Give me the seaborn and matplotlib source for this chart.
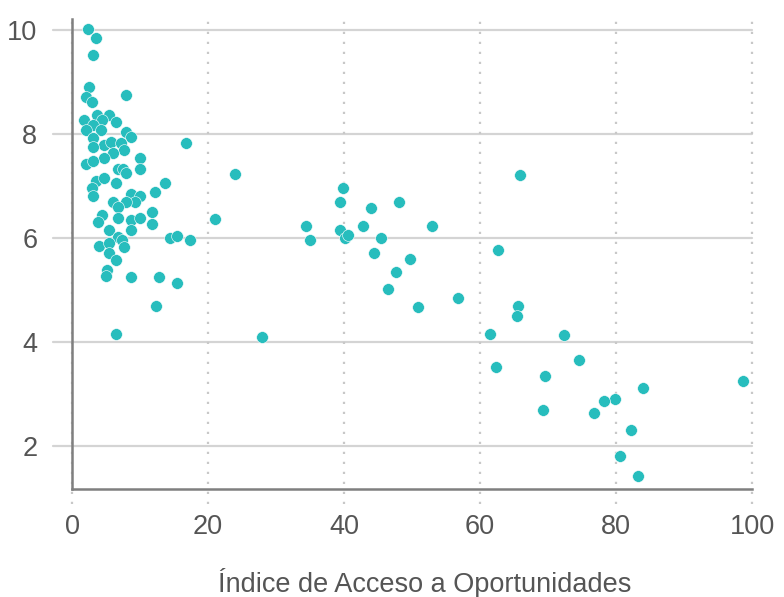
import matplotlib
matplotlib.use("Agg")
import matplotlib.pyplot as plt
import seaborn as sns
import pandas as pd

x_vals = [2.3, 3.6, 3.1, 2.5, 2.1, 2.9, 7.9, 3.7, 5.4, 1.8, 4.4, 6.5, 3.1, 2.1, 4.2, 8.0, 8.7, 3.1,
          16.8, 4.7, 5.7, 7.2, 3.1, 7.6, 6.1, 4.7, 10.0, 2.1, 3.1, 6.7, 7.5, 10.0, 7.9, 24.0, 3.6,
          4.7, 6.5, 13.7, 2.9, 3.1, 12.2, 8.7, 10.0, 9.3, 7.9, 6.0, 6.8, 4.4, 6.8, 11.7, 3.8, 8.7,
          10.0, 11.7, 8.7, 21.0, 5.4, 14.4, 15.5, 17.3, 6.8, 7.4, 3.9, 5.4, 7.6, 5.4, 6.5, 5.2, 5.0,
          8.7, 12.8, 15.4, 12.4, 6.5, 27.9, 34.4, 35.0, 39.8, 39.4, 39.4, 40.1, 40.6, 44.0, 42.8,
          45.4, 44.4, 48.1, 52.9, 49.7, 47.6, 46.5, 50.9, 56.8, 65.9, 62.6, 65.6, 65.4, 61.5, 72.4,
          62.3, 74.6, 69.5, 98.7, 84.0, 79.9, 78.3, 76.8, 69.2, 82.2, 80.6, 83.3]
y_vals = [10.01, 9.85, 9.51, 8.91, 8.71, 8.62, 8.74, 8.37, 8.37, 8.27, 8.27, 8.22, 8.17, 8.07, 8.08,
          8.04, 7.95, 7.93, 7.82, 7.79, 7.85, 7.82, 7.74, 7.69, 7.63, 7.53, 7.53, 7.43, 7.48, 7.33,
          7.33, 7.33, 7.24, 7.22, 7.10, 7.15, 7.05, 7.05, 6.96, 6.80, 6.89, 6.85, 6.80, 6.69, 6.69,
          6.69, 6.59, 6.44, 6.39, 6.49, 6.30, 6.34, 6.38, 6.26, 6.15, 6.37, 6.15, 6.00, 6.03, 5.96,
          6.01, 5.95, 5.85, 5.90, 5.83, 5.71, 5.57, 5.38, 5.26, 5.24, 5.24, 5.13, 4.69, 4.15, 4.10,
          6.23, 5.96, 6.95, 6.69, 6.16, 5.99, 6.06, 6.58, 6.23, 5.99, 5.70, 6.69, 6.23, 5.60, 5.35,
          5.02, 4.67, 4.85, 7.21, 5.76, 4.69, 4.50, 4.15, 4.13, 3.52, 3.65, 3.35, 3.25, 3.12, 2.90,
          2.87, 2.63, 2.69, 2.31, 1.81, 1.42]
x_ticks = [0, 20, 40, 60, 80, 100]
y_ticks = [2, 4, 6, 8, 10]
x_label = "Índice de Acceso a Oportunidades"

df = pd.DataFrame({"x": x_vals, "y": y_vals})

sns.set_style("white")
plt.rcParams["font.family"] = ["Liberation Sans", "DejaVu Sans"]

fig = plt.figure(figsize=(7.84, 5.97), dpi=100)
ax = fig.add_axes([72 / 784, 1 - 489 / 597, 680 / 784, (489 - 19) / 597])

text_color = "#555555"
grid_color = "#d4d4d4"

# horizontal grid lines (solid), extending a little left of the axis
for yt in y_ticks:
    ax.axhline(yt, xmin=-19 / 680, xmax=1, color=grid_color, lw=1.6, clip_on=False, zorder=0)
# vertical dotted grid lines, extending slightly below the axis
for xt in x_ticks:
    ax.axvline(xt, ymin=-15 / 470, ymax=1, color="#c8c8c8", lw=1.6,
               ls=(0, (1, 3.5)), clip_on=False, zorder=0)

sns.scatterplot(data=df, x="x", y="y", ax=ax, color="#27BDBD", s=72,
                edgecolor="white", linewidth=0.4, zorder=3)

ax.set_xlim(0, 100)
ax.set_ylim(1.17, 10.21)
ax.set_xticks(x_ticks)
ax.set_yticks(y_ticks)
ax.tick_params(axis="x", length=0, pad=18, labelsize=19.5, labelcolor=text_color)
ax.tick_params(axis="y", length=0, pad=25, labelsize=19.5, labelcolor=text_color)
ax.set_xlabel(x_label, fontsize=19.5, color=text_color, va="center")
ax.xaxis.set_label_coords(0.519, -94 / 470)
ax.set_ylabel("")

for s in ["top", "right"]:
    ax.spines[s].set_visible(False)
for s in ["left", "bottom"]:
    ax.spines[s].set_color("#7f7f7f")
    ax.spines[s].set_linewidth(1.8)
    ax.spines[s].set_zorder(4)

fig.savefig("out.png", dpi=100)
